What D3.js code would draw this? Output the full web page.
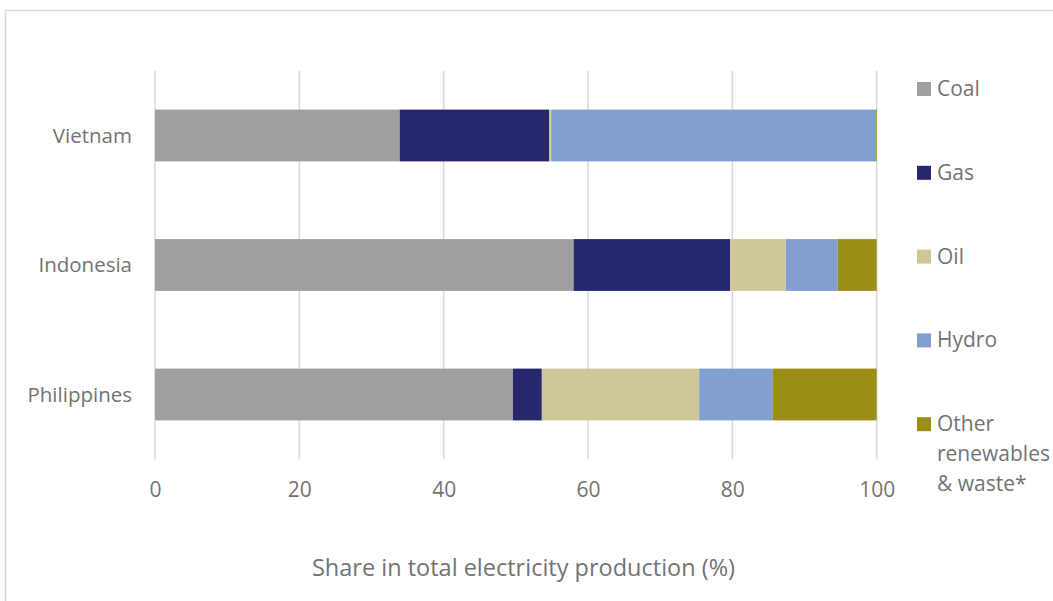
<!DOCTYPE html>
<html>
<head>
<meta charset="utf-8">
<script src="https://cdn.jsdelivr.net/npm/d3@7"></script>
<style>
  html, body { margin: 0; padding: 0; background: #fff; }
  svg { display: block; font-family: "Open Sans", sans-serif; }
</style>
</head>
<body>
<svg id="chart" width="1053" height="601"></svg>
<script>
// Electricity production mix by country (% of total)
const countries = ["Vietnam", "Indonesia", "Philippines"];
const sources = ["Coal", "Gas", "Oil", "Hydro", "Other renewables & waste*"];
const coal   = [33.9, 58.0, 49.6];
const gas    = [20.7, 21.7, 4.0];
const oil    = [0.3, 7.7, 21.8];
const hydro  = [45.0, 7.2, 10.2];
const other  = [0.1, 5.4, 14.4];
const xTicks = [0, 20, 40, 60, 80, 100];
const colors = ["#9f9f9d", "#27276d", "#cec898", "#81a0d0", "#9b8e15"];
const axisTitle = "Share in total electricity production (%)";

const seriesValues = [coal, gas, oil, hydro, other];
const rows = countries.map((c, i) => {
  const r = { country: c };
  sources.forEach((s, j) => { r[s] = seriesValues[j][i]; });
  return r;
});

const svg = d3.select("#chart");
const textColor = "#737373";
const gridColor = "#d9d9d9";

// outer frame
svg.append("rect")
  .attr("x", 5.5).attr("y", 10.5)
  .attr("width", 1100).attr("height", 700)
  .attr("fill", "none").attr("stroke", gridColor).attr("stroke-width", 1.5);

const plot = { left: 155, right: 876.7, top: 70.75, bottom: 459.25 };

const x = d3.scaleLinear().domain([0, 100]).range([plot.left, plot.right]);
const y = d3.scaleBand().domain(countries).range([plot.top, plot.bottom]).paddingInner(0.6).paddingOuter(0.3);

// vertical gridlines
svg.append("g")
  .selectAll("line")
  .data(xTicks)
  .join("line")
  .attr("x1", d => x(d)).attr("x2", d => x(d))
  .attr("y1", plot.top).attr("y2", plot.bottom)
  .attr("stroke", gridColor).attr("stroke-width", 1.5);

// stacked bars
const stack = d3.stack().keys(sources);
const layers = stack(rows);

svg.append("g")
  .selectAll("g")
  .data(layers)
  .join("g")
  .attr("fill", (d, i) => colors[i])
  .selectAll("rect")
  .data(d => d)
  .join("rect")
  .attr("x", d => x(d[0]))
  .attr("width", d => x(d[1]) - x(d[0]))
  .attr("y", d => y(d.data.country))
  .attr("height", y.bandwidth());

// x axis tick labels
const xAxis = d3.axisBottom(x).tickValues(xTicks).tickSize(0).tickPadding(0).tickFormat(d3.format("d"));
const xg = svg.append("g")
  .attr("transform", `translate(0, 497)`)
  .call(xAxis);
xg.select(".domain").remove();
xg.selectAll("text")
  .attr("dy", 0)
  .attr("y", 0)
  .attr("fill", textColor)
  .style("font-size", "21px")
  .style("font-family", "'Open Sans', sans-serif");

// category axis labels
const yAxis = d3.axisLeft(y).tickSize(0).tickPadding(0);
const yg = svg.append("g")
  .attr("transform", `translate(132, 0)`)
  .call(yAxis);
yg.select(".domain").remove();
yg.selectAll("text")
  .attr("fill", textColor)
  .attr("dy", "0.35em")
  .style("font-size", "20.5px")
  .style("font-family", "'Open Sans', sans-serif");

// axis title
svg.append("text")
  .attr("x", 523.5).attr("y", 576)
  .attr("text-anchor", "middle")
  .attr("fill", textColor)
  .style("font-size", "23.5px")
  .text(axisTitle);

// legend
const legendTop = 82;
const legendStep = 83.8;
const legendLines = [["Coal"], ["Gas"], ["Oil"], ["Hydro"], ["Other", "renewables", "& waste*"]];
const lg = svg.append("g");
const items = lg.selectAll("g")
  .data(sources)
  .join("g")
  .attr("transform", (d, i) => `translate(917, ${legendTop + i * legendStep})`);
items.append("rect")
  .attr("width", 14).attr("height", 14)
  .attr("fill", (d, i) => colors[i]);
items.append("text")
  .attr("x", 20).attr("y", 14)
  .attr("fill", textColor)
  .style("font-size", "21px")
  .selectAll("tspan")
  .data((d, i) => legendLines[i])
  .join("tspan")
  .attr("x", 20)
  .attr("dy", (d, i) => i === 0 ? 0 : 30)
  .text(d => d);
</script>
</body>
</html>
